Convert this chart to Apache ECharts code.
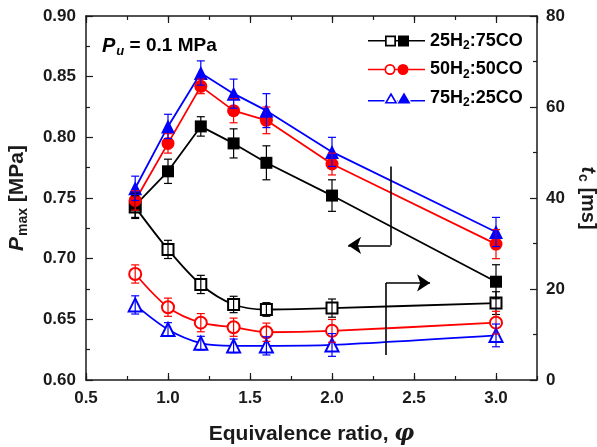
<!DOCTYPE html>
<html>
<head>
<meta charset="utf-8">
<script src="https://cdn.jsdelivr.net/npm/echarts@6/dist/echarts.min.js"></script>
<style>
html,body{margin:0;padding:0;background:#fff;}
#chart{width:597px;height:447px;}
</style>
</head>
<body>
<div id="chart"></div>
<script>
// ---- data ----
const phi = [0.8, 1.0, 1.2, 1.4, 1.6, 2.0, 3.0];
const seriesNames = ['25H2:75CO', '50H2:50CO', '75H2:25CO'];
const pmax25 = [0.744, 0.772, 0.809, 0.795, 0.779, 0.752, 0.681];
const pmax50 = [0.748, 0.795, 0.842, 0.822, 0.814, 0.778, 0.712];
const pmax75 = [0.758, 0.809, 0.853, 0.836, 0.822, 0.788, 0.722];
const pmaxErr25 = [0.010, 0.010, 0.008, 0.012, 0.014, 0.013, 0.014];
const pmaxErr50 = [0.008, 0.008, 0.006, 0.010, 0.011, 0.009, 0.012];
const pmaxErr75 = [0.010, 0.010, 0.010, 0.012, 0.014, 0.012, 0.012];
const tc25 = [38.0, 28.7, 21.0, 16.6, 15.5, 15.8, 16.9];
const tc50 = [23.3, 16.0, 12.6, 11.6, 10.5, 10.8, 12.6];
const tc75 = [16.5, 11.1, 8.1, 7.5, 7.5, 7.7, 9.8];
const tcErr25 = [2.5, 2.0, 2.0, 1.8, 1.5, 2.0, 2.5];
const tcErr50 = [2.0, 2.0, 2.0, 2.0, 2.0, 2.5, 2.5];
const tcErr75 = [2.0, 1.5, 1.5, 1.5, 2.0, 2.5, 2.5];
// annotation arrows (data coords: phi, Pmax): vertical stems and arrow-headed legs
const arrowStems = [[[2.358, 0.776], [2.358, 0.711]], [[2.329, 0.6206], [2.329, 0.680]]];
const arrowLegs = [[[2.358, 0.711], [2.098, 0.711]], [[2.329, 0.680], [2.598, 0.680]]];

const colors = ['#000000', '#ff0000', '#0000ff'];
const FONT = '"Liberation Sans", Arial, sans-serif';

const pmax = [pmax25, pmax50, pmax75];
const pmaxErr = [pmaxErr25, pmaxErr50, pmaxErr75];
const tc = [tc25, tc50, tc75];
const tcErr = [tcErr25, tcErr50, tcErr75];

const filledSym = ['rect', 'circle', 'triangle'];
const filledSize = [12, 13, 14];
const openSym = ['emptyRect', 'emptyCircle', 'emptyTriangle'];
const openSize = [11, 12, 13];

// legend icons: line + open marker + filled marker
const legendIcons = [
  'path://M0 5H17V6.6H0Z M17 0.5H28V11.5H17Z M18.7 2.2V9.8H26.3V2.2Z M28 5H30V6.6H28Z M30 0.5H41V11.5H30Z M41 5H57V6.6H41Z',
  'path://M0 5.2H16.5V6.8H0Z M16.5 6A5.5 5.5 0 1 1 27.5 6A5.5 5.5 0 1 1 16.5 6Z M18.2 6A3.8 3.8 0 1 0 25.8 6A3.8 3.8 0 1 0 18.2 6Z M27.5 5.2H29.5V6.8H27.5Z M29.5 6A5.5 5.5 0 1 1 40.5 6A5.5 5.5 0 1 1 29.5 6Z M40.5 5.2H57V6.8H40.5Z',
  'path://M0 8H16.5V9.6H0Z M23 0.5L29.5 11.5H16.5Z M23 3.7L19.3 9.9H26.7Z M29.5 8H30V9.6H29.5Z M36 0.5L42.5 11.5H29.5Z M42.5 8H57V9.6H42.5Z'
];

function pairs(xs, ys) { return xs.map((x, i) => [x, ys[i]]); }
function errData(xs, ys, es) { return xs.map((x, i) => [x, ys[i], es[i]]); }

function errorBarSeries(data, color, yIdx) {
  return {
    type: 'custom',
    xAxisIndex: 0,
    yAxisIndex: yIdx,
    z: 5,
    silent: true,
    data: data,
    renderItem: function (params, api) {
      const x = api.value(0), y = api.value(1), e = api.value(2);
      const hi = api.coord([x, y + e]);
      const lo = api.coord([x, y - e]);
      const w = 4;
      const st = { stroke: color, lineWidth: 1.2, fill: null };
      return {
        type: 'group',
        children: [
          { type: 'line', shape: { x1: hi[0], y1: hi[1], x2: lo[0], y2: lo[1] }, style: st },
          { type: 'line', shape: { x1: hi[0] - w, y1: hi[1], x2: hi[0] + w, y2: hi[1] }, style: st },
          { type: 'line', shape: { x1: lo[0] - w, y1: lo[1], x2: lo[0] + w, y2: lo[1] }, style: st }
        ]
      };
    }
  };
}

const series = [];
for (let k = 0; k < 3; k++) {
  // tc (open markers, right axis)
  series.push({
    name: 'tc ' + seriesNames[k],
    type: 'line',
    xAxisIndex: 0, yAxisIndex: 1,
    data: pairs(phi, tc[k]),
    smooth: 0.3,
    symbol: openSym[k],
    symbolSize: openSize[k],
    lineStyle: { color: colors[k], width: 1.8 },
    itemStyle: { color: colors[k], borderWidth: 1.6 },
    z: 3
  });
  series.push(errorBarSeries(errData(phi, tc[k], tcErr[k]), colors[k], 1));
  // Pmax (filled markers, left axis)
  series.push({
    name: seriesNames[k],
    type: 'line',
    xAxisIndex: 0, yAxisIndex: 0,
    data: pairs(phi, pmax[k]),
    symbol: filledSym[k],
    symbolSize: filledSize[k],
    lineStyle: { color: colors[k], width: 1.8 },
    itemStyle: { color: colors[k] },
    z: 4
  });
  series.push(errorBarSeries(errData(phi, pmax[k], pmaxErr[k]), colors[k], 0));
}

series.push({
  type: 'lines',
  coordinateSystem: 'cartesian2d',
  xAxisIndex: 0, yAxisIndex: 0,
  silent: true,
  symbol: ['none', 'none'],
  lineStyle: { color: '#000', width: 1.6, opacity: 1, curveness: 0 },
  data: arrowStems.map(c => ({ coords: c })),
  z: 6
});
series.push({
  type: 'lines',
  coordinateSystem: 'cartesian2d',
  xAxisIndex: 0, yAxisIndex: 0,
  silent: true,
  symbol: ['none', 'arrow'],
  symbolSize: 13,
  lineStyle: { color: '#000', width: 1.6, opacity: 1, curveness: 0 },
  data: arrowLegs.map(c => ({ coords: c })),
  z: 6
});

const tickLabel = { fontSize: 17, fontWeight: 'bold', fontFamily: FONT, color: '#1a1a1a' };
const axisLineStyle = { show: true, lineStyle: { color: '#1a1a1a', width: 1.5 } };

function xAx(pos, interval, tickLen, labels, extra) {
  return Object.assign({
    type: 'value', position: pos, min: 0.5, max: 3.25, interval: interval,
    axisLine: axisLineStyle,
    axisTick: { show: true, inside: true, length: tickLen, lineStyle: { color: '#1a1a1a', width: 1.2 } },
    axisLabel: labels ? Object.assign({ margin: 10, showMaxLabel: false, formatter: v => v.toFixed(1) }, tickLabel) : { show: false },
    splitLine: { show: false }
  }, extra || {});
}

const option = {
  backgroundColor: '#fff',
  animation: false,
  textStyle: { fontFamily: FONT },
  grid: { left: 86, right: 60, top: 16, bottom: 67, containLabel: false, outerBoundsMode: 'none' },
  title: {
    text: '{p|P}{u|u}{t| = 0.1 MPa}',
    left: 97, top: 29,
    textStyle: {
      rich: {
        p: { fontSize: 20, fontWeight: 'bold', fontStyle: 'italic', fontFamily: FONT, color: '#000', lineHeight: 24 },
        u: { fontSize: 13, fontWeight: 'bold', fontStyle: 'italic', fontFamily: FONT, color: '#000', padding: [11, 0, 0, 1] },
        t: { fontSize: 19, fontWeight: 'bold', fontFamily: FONT, color: '#000' }
      }
    }
  },
  legend: {
    orient: 'vertical',
    left: 363, top: 27,
    itemWidth: 57, itemHeight: 11,
    itemGap: 8.5,
    data: seriesNames.map((n, i) => ({ name: n, icon: legendIcons[i], itemStyle: { color: colors[i], borderWidth: 0 } })),
    formatter: function (name) {
      const m = name.match(/^(\d+)H2:(\d+)CO$/);
      return '{a|' + m[1] + 'H}{s|2}{a|:' + m[2] + 'CO}';
    },
    textStyle: {
      rich: {
        a: { fontSize: 18, fontWeight: 'bold', fontFamily: FONT, color: '#000', lineHeight: 21 },
        s: { fontSize: 12, fontWeight: 'bold', fontFamily: FONT, color: '#000', padding: [10, 0, 0, 0] }
      }
    },
    selectedMode: false
  },
  xAxis: [
    xAx('bottom', 0.5, 7, true, {
      name: 'Equivalence ratio, {f|φ}',
      nameLocation: 'middle', nameGap: 43,
      nameTextStyle: {
        fontSize: 21, fontWeight: 'bold', fontFamily: FONT, color: '#1a1a1a',
        rich: { f: { fontSize: 22, fontStyle: 'italic', fontWeight: 'bold', fontFamily: '"DejaVu Serif", serif', color: '#1a1a1a' } }
      }
    }),
    xAx('bottom', 0.25, 4, false, { axisLine: { show: false } }),
    xAx('top', 0.5, 7, false),
    xAx('top', 0.25, 4, false, { axisLine: { show: false } })
  ],
  yAxis: [
    {
      type: 'value', position: 'left', min: 0.6, max: 0.9, interval: 0.05,
      axisLine: axisLineStyle,
      axisTick: { show: true, inside: true, length: 7, lineStyle: { color: '#1a1a1a', width: 1.2 } },
      minorTick: { show: true, splitNumber: 2, length: 4, lineStyle: { color: '#1a1a1a', width: 1.2 } },
      axisLabel: Object.assign({ margin: 10, formatter: v => v.toFixed(2) }, tickLabel),
      splitLine: { show: false },
      name: '{p|P}{s|max}{t| [MPa]}',
      nameLocation: 'middle', nameRotate: 90, nameGap: 56,
      nameTextStyle: {
        rich: {
          p: { fontSize: 21, fontWeight: 'bold', fontStyle: 'italic', fontFamily: FONT, color: '#1a1a1a', lineHeight: 24 },
          s: { fontSize: 14, fontWeight: 'bold', fontFamily: FONT, color: '#1a1a1a', padding: [11, 0, 0, 1] },
          t: { fontSize: 21, fontWeight: 'bold', fontFamily: FONT, color: '#1a1a1a' }
        }
      }
    },
    {
      type: 'value', position: 'right', min: 0, max: 80, interval: 20,
      axisLine: axisLineStyle,
      axisTick: { show: true, inside: true, length: 7, lineStyle: { color: '#1a1a1a', width: 1.2 } },
      minorTick: { show: true, splitNumber: 2, length: 4, lineStyle: { color: '#1a1a1a', width: 1.2 } },
      axisLabel: Object.assign({ margin: 9 }, tickLabel),
      splitLine: { show: false },
      name: '{p|t}{s|c}{t| [ms]}',
      nameLocation: 'middle', nameRotate: -90, nameGap: 36,
      nameTextStyle: {
        rich: {
          p: { fontSize: 20, fontWeight: 'bold', fontStyle: 'italic', fontFamily: FONT, color: '#1a1a1a', lineHeight: 23 },
          s: { fontSize: 14, fontWeight: 'bold', fontFamily: FONT, color: '#1a1a1a', padding: [10, 0, 0, 1] },
          t: { fontSize: 20, fontWeight: 'bold', fontFamily: FONT, color: '#1a1a1a' }
        }
      }
    }
  ],
  series: series
};

const chart = echarts.init(document.getElementById('chart'), null, { renderer: 'canvas' });
chart.setOption(option);
</script>
</body>
</html>
